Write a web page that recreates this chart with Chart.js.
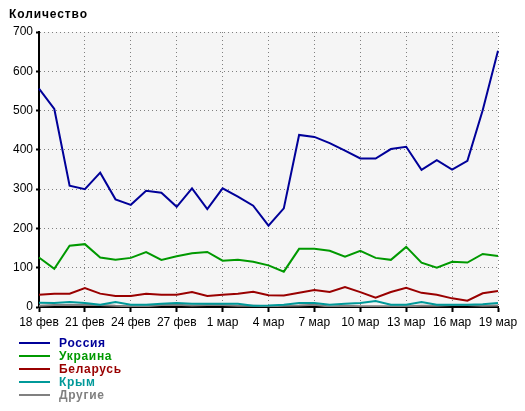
<!DOCTYPE html>
<html><head><meta charset="utf-8">
<script src="https://cdn.jsdelivr.net/npm/chart.js@4/dist/chart.umd.min.js"></script>
<style>
body{margin:0;background:#fff;}
#wrap{position:relative;width:525px;height:411px;overflow:hidden;}
#title{position:absolute;left:9px;top:7px;font:bold 12px "Liberation Sans",Arial,sans-serif;letter-spacing:0.9px;line-height:14px;color:#000;}
#legend{position:absolute;left:19px;top:336px;}
.item{position:relative;height:13px;line-height:13px;font:bold 12px "Liberation Sans",Arial,sans-serif;letter-spacing:0.7px;}
.item .ln{position:absolute;left:0;top:6px;width:31px;height:2px;}
.item .tx{position:absolute;left:40px;top:0;white-space:nowrap;}
canvas{position:absolute;left:0;top:0;}
</style>
</head><body>
<div id="wrap">
<canvas id="c" width="525" height="411"></canvas>
<div id="title">Количество</div>
<div id="legend"></div>
</div>
<script>
const categories = ['18 фев','19 фев','20 фев','21 фев','22 фев','23 фев','24 фев','25 фев','26 фев','27 фев','28 фев','29 фев',
  '1 мар','2 мар','3 мар','4 мар','5 мар','6 мар','7 мар','8 мар','9 мар','10 мар','11 мар','12 мар','13 мар','14 мар','15 мар','16 мар','17 мар','18 мар','19 мар'];
const seriesNames = ['Россия','Украина','Беларусь','Крым','Другие'];
const seriesColors = ['#000099','#009900','#990000','#009999','#808080'];
const russia  = [556,504,309,300,342,274,260,296,291,255,302,249,302,281,258,207,251,438,433,417,398,378,378,402,408,349,374,350,372,501,652];
const ukraine = [126,97,156,160,126,120,125,140,120,129,137,140,118,120,115,106,90,148,148,143,128,143,125,120,153,113,100,115,113,135,130];
const belarus = [31,34,34,48,34,28,28,34,31,31,38,28,31,34,39,30,29,36,43,38,51,38,24,38,49,36,31,22,16,35,41];
const crimea  = [11,10,13,10,6,13,6,6,8,10,8,8,8,8,3,4,6,10,10,6,8,10,15,6,6,13,6,6,6,7,10];
const others  = [3,5,5,5,5,3,2,2,5,6,4,5,5,3,3,2,3,4,6,1,3,2,2,2,2,3,3,5,5,3,4];
const yTicks = [0,100,200,300,400,500,600,700];

const allSeries = [russia, ukraine, belarus, crimea, others];

const bgPlugin = {
  id:'bg',
  beforeDraw(chart){
    const a = chart.chartArea, ctx = chart.ctx;
    ctx.save(); ctx.fillStyle = '#f5f5f5';
    ctx.fillRect(a.left, a.top, a.right-a.left, a.bottom-a.top);
    ctx.restore();
  }
};

const font = {family:'"Liberation Sans", Arial, sans-serif', size:12};
new Chart(document.getElementById('c'), {
  type:'line',
  data:{
    labels:categories,
    datasets: allSeries.map((d,i)=>({label:seriesNames[i], data:d, borderColor:seriesColors[i], backgroundColor:seriesColors[i],
      borderWidth:2, pointRadius:0, tension:0, fill:false}))
  },
  options:{
    responsive:false, animation:false,
    layout:{padding:{left:0, top:32, right:27, bottom:0}},
    plugins:{legend:{display:false}, tooltip:{enabled:false}},
    scales:{
      x:{
        offset:false,
        afterFit(s){ s.height = 104; },
        grid:{
          color:(c)=> (c.index % 3 === 0 ? '#808080' : 'rgba(0,0,0,0)'),
          tickColor:(c)=> (c.index % 3 === 0 ? '#000' : 'rgba(0,0,0,0)'),
          tickLength:5, lineWidth:1, tickWidth:2, drawOnChartArea:true
        },
        border:{display:true, color:'#000', width:2, dash:[1,3]},
        ticks:{autoSkip:false, maxRotation:0, padding:3, color:'#000', font,
          callback:(v,i)=> (i % 3 === 0 ? categories[i] : '')}
      },
      y:{
        min:0, max:700,
        afterFit(s){ s.width = 39; },
        afterBuildTicks(s){ s.ticks = yTicks.map(v=>({value:v})); },
        grid:{color:'#808080', tickColor:'#000', tickLength:3, tickWidth:2, lineWidth:1},
        border:{display:true, color:'#000', width:2, dash:[1,3]},
        ticks:{padding:3, color:'#000', font}
      }
    }
  },
  plugins:[bgPlugin]
});

const leg = document.getElementById('legend');
seriesNames.forEach((n,i)=>{
  const it = document.createElement('div'); it.className='item';
  const ln = document.createElement('span'); ln.className='ln'; ln.style.background=seriesColors[i];
  const tx = document.createElement('span'); tx.className='tx'; tx.style.color=seriesColors[i]; tx.textContent=n;
  it.appendChild(ln); it.appendChild(tx); leg.appendChild(it);
});
</script>
</body></html>
